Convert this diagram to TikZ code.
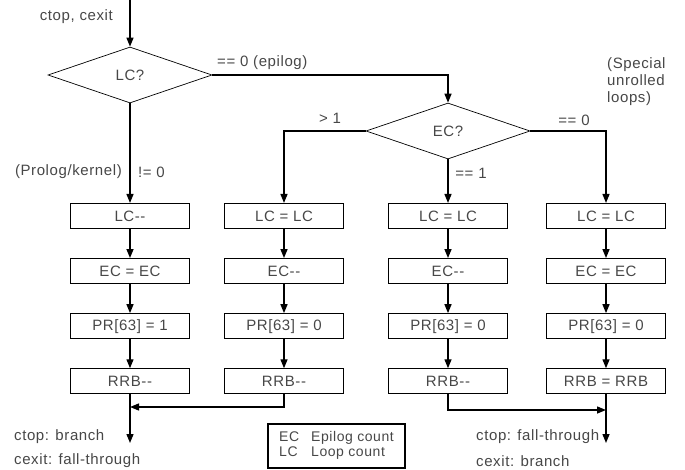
\documentclass[tikz,border=0pt]{standalone}
\usepackage{fontspec}
\setmainfont[LetterSpace=4]{Liberation Sans}
\usetikzlibrary{arrows.meta,positioning,shapes.geometric}

\tikzset{
  op/.style={draw=black, line width=1.1pt, minimum width=119pt, minimum height=25pt, inner sep=0pt},
  test/.style={diamond, draw=black, line width=0.7pt, aspect=3, inner sep=0pt,
    minimum width=164pt, minimum height=56pt},
  flow/.style={->, draw=black, line width=1.4pt},
  lbl/.style={inner sep=0pt}
}

\begin{document}
\begin{tikzpicture}[x=1pt,y=-1pt,>={Triangle[length=9pt,width=7pt]},
    node distance=29pt, font=\fontsize{15}{17}\selectfont, text=black!72]
	\useasboundingbox (0,0) rectangle (685,470);
	% decisions
	\node[test] (lc) at (130,75) {LC?};
	\node[test] (ec) at (448,131) {EC?};
	% columns of register updates
	\node[op] (b1_1) at (130,216) {LC-{}-};
	\node[op] [below=of b1_1] (b1_2) {EC = EC};
	\node[op] [below=of b1_2] (b1_3) {PR[63] = 1};
	\node[op] [below=of b1_3] (b1_4) {RRB-{}-};
	\node[op] (b2_1) at (284,216) {LC = LC};
	\node[op] [below=of b2_1] (b2_2) {EC-{}-};
	\node[op] [below=of b2_2] (b2_3) {PR[63] = 0};
	\node[op] [below=of b2_3] (b2_4) {RRB-{}-};
	\node[op] (b3_1) at (448,216) {LC = LC};
	\node[op] [below=of b3_1] (b3_2) {EC-{}-};
	\node[op] [below=of b3_2] (b3_3) {PR[63] = 0};
	\node[op] [below=of b3_3] (b3_4) {RRB-{}-};
	\node[op] (b4_1) at (606,216) {LC = LC};
	\node[op] [below=of b4_1] (b4_2) {EC = EC};
	\node[op] [below=of b4_2] (b4_3) {PR[63] = 0};
	\node[op] [below=of b4_3] (b4_4) {RRB = RRB};
	% free ends
	\coordinate (in) at (130,0);
	\coordinate (m_1) at (130,407);
	\coordinate (m_2) at (606,410);
	\coordinate (out_1) at (130,443);
	\coordinate (out_2) at (606,443);
	% labels
	\node[lbl,anchor=east] (entry) at (113,17) {ctop, cexit};
	\node[lbl,anchor=west] (epi) at (217,63) {== 0 (epilog)};
	\node[lbl,anchor=west,align=left] (spec) at (607,82) {(Special\\unrolled\\loops)};
	\node[lbl] (gt) at (330,118) {> 1};
	\node[lbl] (eq0) at (574,120) {== 0};
	\node[lbl] (eq1) at (471,173) {== 1};
	\node[lbl,anchor=east] (pro) at (122,172) {(Prolog/kernel)};
	\node[lbl,anchor=west] (ne0) at (138,172) {!= 0};
	\node[lbl,anchor=west] (br_1) at (14,437) {ctop: branch};
	\node[lbl,anchor=west] (ft_1) at (14,461) {cexit: fall-through};
	\node[lbl,anchor=west] (ft_2) at (476,437) {ctop: fall-through};
	\node[lbl,anchor=west] (br_2) at (476,461) {cexit: branch};
	\node[draw=black, line width=1.1pt, minimum width=137pt, minimum height=44pt,
	  font=\fontsize{14}{15}\selectfont] (key) at (336.5,446)
	  {\begin{tabular}{@{}l@{\hspace{12pt}}l@{}}EC & Epilog count\\LC & Loop count\end{tabular}};
	% connectors
	\draw[flow] (in) -- (lc.north);
	\draw[flow] (lc.south) -- (b1_1.north);
	\draw[flow] (lc.east) -| (ec.north);
	\draw[flow] (ec.west) -| (b2_1.north);
	\draw[flow] (ec.south) -- (b3_1.north);
	\draw[flow] (ec.east) -| (b4_1.north);
	\foreach \c in {1,2,3,4}{
		\draw[flow] (b\c_1) -- (b\c_2);
		\draw[flow] (b\c_2) -- (b\c_3);
		\draw[flow] (b\c_3) -- (b\c_4);
	}
	\draw[flow] (b1_4.south) -- (out_1);
	\draw[flow] (b2_4.south) |- (m_1);
	\draw[flow] (b3_4.south) |- (m_2);
	\draw[flow] (b4_4.south) -- (out_2);
\end{tikzpicture}
\end{document}
